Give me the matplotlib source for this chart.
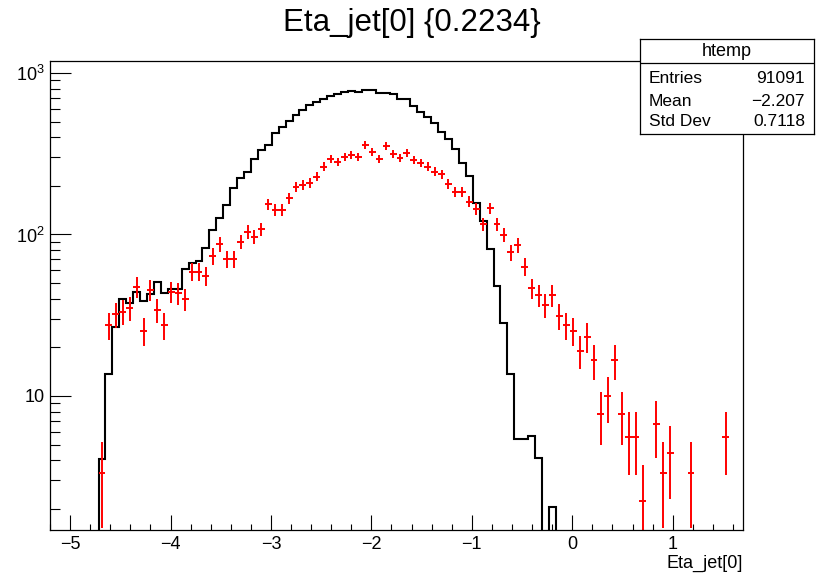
import numpy as np
import matplotlib
matplotlib.use("Agg")
import matplotlib.pyplot as plt
from matplotlib.ticker import FixedLocator, FixedFormatter, MultipleLocator, LogLocator, NullFormatter

plt.rcParams['font.family'] = ['Liberation Sans', 'DejaVu Sans']
plt.rcParams['mathtext.default'] = 'regular'

# histogram binning (ROOT auto range)
x_min, x_max, n_bins = -5.2, 1.7, 100

# black: htemp, 100 bins
black = [0, 0, 0, 0, 0, 0, 0, 4.1, 13.6, 26.9,
         39.7, 37.5, 44.2, 38.8, 42.8, 50.6, 43.2, 45.8, 45.8, 61.1,
         66.3, 68.5, 82.1, 106.6, 126, 152, 193, 223, 245, 292,
         334, 358, 423, 465, 507, 550, 590, 634, 659, 690,
         724, 741, 759, 777, 759, 785, 785, 755, 750, 738,
         687, 687, 628, 576, 532, 492, 433, 390, 337, 276,
         230, 156, 122, 81, 48, 28.4, 13.6, 5.42, 5.42, 5.68,
         4.11, 0, 2.06, 0, 0, 0, 0, 0, 0, 0,
         0, 0, 0, 0, 0, 0, 0, 0, 0, 0,
         0, 0, 0, 0, 0, 0, 0, 0, 0, 0]

# red: selected sample, 100 bins
red = [0, 0, 0, 0, 0, 0, 0, 3.35, 27.5, 32.1,
       33.3, 35.2, 47.5, 25.4, 45.3, 34.1, 27.5, 44.2, 43.2, 39.7,
       58.9, 58.9, 55.3, 73.5, 87, 70.2, 70.2, 90.3, 104, 97,
       108, 154, 142, 142, 168, 196, 203, 209, 228, 263,
       293, 282, 301, 311, 301, 358, 326, 293, 353, 315,
       299, 321, 289, 278, 263, 245, 237, 205, 184, 184,
       160, 144, 116, 145, 116, 99.3, 77.6, 86.1, 63.2, 46.4,
       42.2, 36.6, 42.2, 31.3, 27.5, 25.4, 19.0, 23.3, 16.7, 7.74,
       10.0, 16.7, 7.74, 5.6, 5.6, 2.25, 0, 6.71, 3.35, 4.42,
       0, 0, 3.35, 0, 0, 0, 0, 5.6, 0, 0]

stats_rows = [("Entries", "91091"), ("Mean", "\u22122.207"), ("Std Dev", "0.7118")]

black = np.array(black, dtype=float)
red = np.array(red, dtype=float)
edges = np.linspace(x_min, x_max, n_bins + 1)
centers = 0.5 * (edges[:-1] + edges[1:])
width = edges[1] - edges[0]

fig = plt.figure(figsize=(8.19, 5.74), dpi=100)
ax = fig.add_axes([50 / 819, 44 / 574, 693 / 819, 469 / 574])

floor = 1e-3
ax.stairs(np.where(black > 0, black, floor), edges, baseline=floor,
          color='black', lw=1.5)

m = red > 0
ax.errorbar(centers[m], red[m], xerr=width / 2, yerr=np.sqrt(red[m]),
            fmt='none', ecolor='red', elinewidth=1.4, capsize=0)

ax.set_yscale('log')
ax.set_xlim(x_min, x_max)
ax.set_ylim(1.48, 1186)

ax.xaxis.set_major_locator(MultipleLocator(1))
ax.xaxis.set_minor_locator(MultipleLocator(0.2))
ax.yaxis.set_major_locator(FixedLocator([10, 100, 1000]))
ax.yaxis.set_major_formatter(FixedFormatter(['10', '$10^{2}$', '$10^{3}$']))
ax.yaxis.set_minor_locator(LogLocator(base=10, subs=np.arange(2, 10)))
ax.yaxis.set_minor_formatter(NullFormatter())

ax.tick_params(axis='x', which='major', direction='in', length=10.8, width=0.8,
               labelsize=13, pad=4)
ax.tick_params(axis='x', which='minor', direction='in', length=4.5, width=0.8)
ax.tick_params(axis='y', which='major', direction='in', length=15, width=0.8,
               labelsize=13, pad=4)
ax.tick_params(axis='y', which='minor', direction='in', length=7.5, width=0.8)
for s in ax.spines.values():
    s.set_linewidth(0.9)

fig.text(0.503, 1 - 23 / 574, "Eta_jet[0] {0.2234}", ha='center', va='center',
         fontsize=22.5)
fig.text(743 / 819, 1 - 563 / 574, "Eta_jet[0]", ha='right', va='center',
         fontsize=13)

# stats box
sb = fig.add_axes([640 / 819, 1 - 134 / 574, 174 / 819, 95 / 574], zorder=5)
sb.set_xlim(0, 1)
sb.set_ylim(0, 1)
sb.set_xticks([])
sb.set_yticks([])
for s in sb.spines.values():
    s.set_linewidth(0.9)
sb.axhline(0.747, color='black', lw=0.9)
sb.text(0.5, 0.865, "htemp", ha='center', va='center', fontsize=13)
for (name, val), yy in zip(stats_rows, [0.589, 0.347, 0.128]):
    sb.text(0.052, yy, name, ha='left', va='center', fontsize=12.5)
    sb.text(0.948, yy, val, ha='right', va='center', fontsize=12.5)

fig.savefig("out.png", dpi=100)
